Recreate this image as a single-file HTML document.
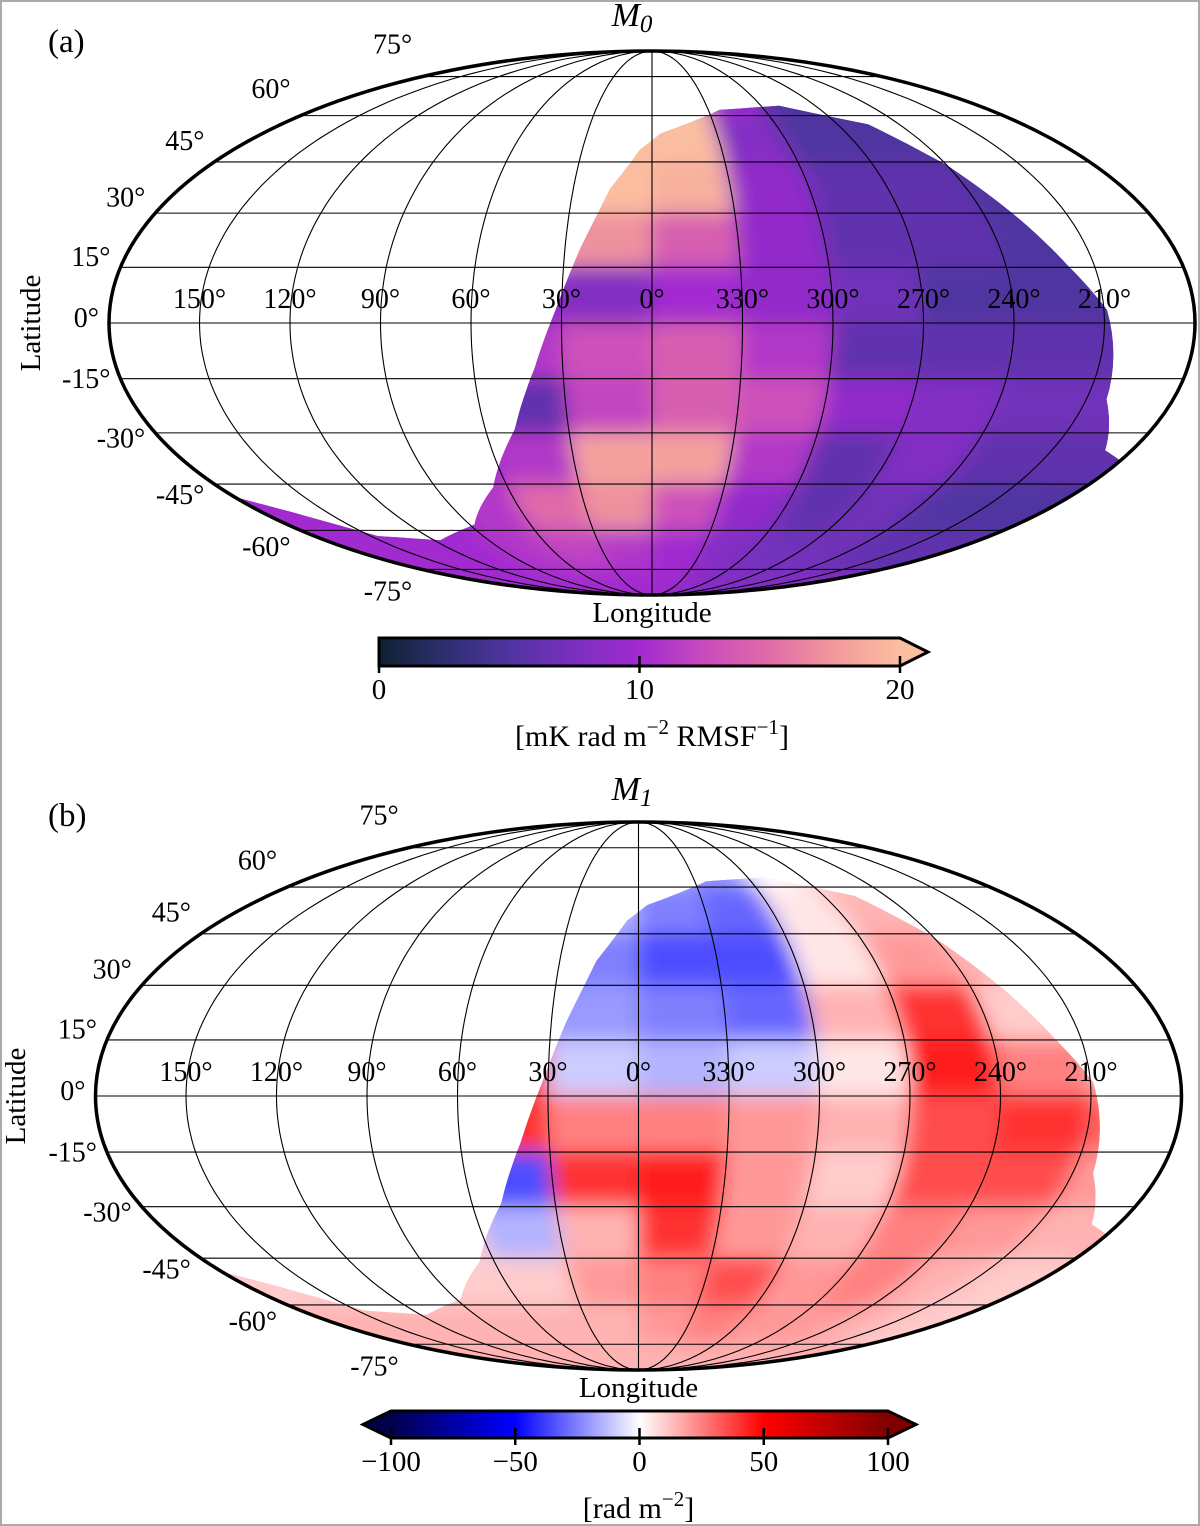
<!DOCTYPE html>
<html><head><meta charset="utf-8"><style>
html,body{margin:0;padding:0;background:#fff;}
svg{display:block;font-family:"Liberation Serif","DejaVu Serif",serif;}
</style></head><body>
<svg id="fig" width="1200" height="1526" viewBox="0 0 1200 1526" xmlns="http://www.w3.org/2000/svg">
<defs>
<filter id="blur" x="-5%" y="-5%" width="110%" height="110%"><feGaussianBlur stdDeviation="10"/></filter>
<linearGradient id="gradA" x1="0" x2="1" y1="0" y2="0">
<stop offset="0" stop-color="#0e2233"/><stop offset="0.125" stop-color="#2e2e6e"/><stop offset="0.25" stop-color="#4f35a0"/><stop offset="0.375" stop-color="#7a2fc0"/><stop offset="0.5" stop-color="#a22ad0"/><stop offset="0.625" stop-color="#c94bbd"/><stop offset="0.75" stop-color="#e06ba8"/><stop offset="0.875" stop-color="#f29a9c"/><stop offset="1" stop-color="#fbbea0"/>
</linearGradient>
<linearGradient id="gradB" x1="0" x2="1" y1="0" y2="0">
<stop offset="0" stop-color="#00004c"/><stop offset="0.25" stop-color="#0000ff"/><stop offset="0.5" stop-color="#ffffff"/><stop offset="0.75" stop-color="#ff0000"/><stop offset="1" stop-color="#800000"/>
</linearGradient>
</defs>
<rect x="1" y="1" width="1198" height="1524" fill="#fff" stroke="#aaa" stroke-width="2"/>
</svg>
<script>
// ---- data ----
const lonCenters = [165,135,105,75,45,15,-15,-45,-75,-105,-135,-165];
const latCenters = [82.5,67.5,52.5,37.5,22.5,7.5,-7.5,-22.5,-37.5,-52.5,-67.5,-82.5];
const m0Values = [
[10,10,10,10,10,18,18,12,6,6,6,6],
[10,10,10,10,18,20,20,10,5,5,5,5],
[10,10,10,10,20,20,20,8,5,5,5,5],
[10,10,10,10,20,20,19,9,6,6,5,5],
[10,10,10,10,18,17,14,9,6,6,5,5],
[10,10,10,10,9,8,10,9,7,5,5,5],
[10,10,10,10,11,13,14,11,6,6,6,6],
[10,10,10,10,6,12,14,13,9,8,7,7],
[10,10,10,10,11,18,18,11,6,8,6,6],
[10,9,9,11,15,17,13,9,6,7,5,5],
[10,10,10,11,12,11,10,8,7,7,6,6],
[10,10,10,10,10,10,10,9,8,8,8,8]];
const m1Values = [
[10,10,10,10,5,5,-10,-10,5,10,10,10],
[10,10,10,10,5,5,-15,-20,0,10,10,10],
[10,10,10,10,5,-15,-25,-30,5,15,15,10],
[10,10,10,10,5,-25,-35,-35,5,20,15,10],
[10,10,10,10,-20,-20,-25,-30,15,40,10,10],
[10,10,10,10,40,-10,-15,-10,5,45,25,15],
[10,10,10,10,40,25,25,20,15,35,40,30],
[10,10,10,10,-35,40,45,20,10,35,35,20],
[10,10,10,10,-15,15,40,20,15,25,20,15],
[10,10,10,10,10,20,25,35,20,25,15,10],
[15,15,15,15,15,15,20,25,20,20,15,10],
[15,15,15,15,15,15,15,15,15,15,15,15]];
const boundaryLon = [5,-4,-36,-70,-105,-120,-132,-141,-151,-157,-170,-180,-180,-180,180,180,180,165.7,146,116.5,87.6,66,49.4,39.4,32,24.8,16,5];
const boundaryLat = [49,54,62,63.5,57,44,28,15.5,3.5,-20.7,-35,-38,-60,-89.9,-89.9,-60,-49,-54,-62,-63.5,-58,-46,-29,-12,3.5,20,37,49];
const lonTickLabels = ["150°","120°","90°","60°","30°","0°","330°","300°","270°","240°","210°"];
const lonTickValues = [150,120,90,60,30,0,-30,-60,-90,-120,-150];
const latTickValues = [75,60,45,30,15,0,-15,-30,-45,-60,-75];
const cbTicksA = [0,10,20];
const cbTicksB = [-100,-50,0,50,100];

const NS="http://www.w3.org/2000/svg";
const svg=document.getElementById('fig');
function mk(tag,attrs,parent){const e=document.createElementNS(NS,tag);for(const k in attrs)e.setAttribute(k,attrs[k]);(parent||svg).appendChild(e);return e;}

function theta(lat){const p=Math.PI*Math.sin(lat*Math.PI/180);let t=lat*Math.PI/180*0.8;
 if(Math.abs(lat)>89.99)return Math.sign(lat)*Math.PI/2;
 for(let i=0;i<30;i++){const f=2*t+Math.sin(2*t)-p;const d=2+2*Math.cos(2*t);if(d<1e-9)break;t-=f/d;}return t;}
function proj(P,lon,lat){const t=theta(lat);return [P.cx-P.a*(lon/180)*Math.cos(t),P.cy-P.b*Math.sin(t)];}

const stopsA=[[0,[14,34,51]],[2.5,[46,46,110]],[5,[79,53,160]],[7.5,[122,47,192]],[10,[162,42,208]],[12.5,[201,75,189]],[15,[224,107,168]],[17.5,[242,154,156]],[20,[251,190,160]]];
const stopsB=[[-100,[0,0,76]],[-50,[0,0,255]],[0,[255,255,255]],[50,[255,0,0]],[100,[128,0,0]]];
function cmap(stops,v){if(v<=stops[0][0])return rgb(stops[0][1]);const L=stops[stops.length-1];if(v>=L[0])return rgb(L[1]);
 for(let i=0;i<stops.length-1;i++){const a=stops[i],b=stops[i+1];if(v>=a[0]&&v<=b[0]){const f=(v-a[0])/(b[0]-a[0]);return rgb(a[1].map((c,j)=>c+(b[1][j]-c)*f));}}}
function rgb(c){return 'rgb('+c.map(x=>Math.round(x)).join(',')+')';}

function polyPts(P,pts){return pts.map(p=>proj(P,p[0],p[1]).map(v=>v.toFixed(1)).join(',')).join(' ');}

function panel(P){
 const g=mk('g',{});
 
 
 const cp=mk('clipPath',{id:'clip-'+P.id},svg.querySelector('defs'));
 const dense=[];
 for(let i=0;i<boundaryLon.length-1;i++){for(let s=0;s<8;s++){const f=s/8;dense.push([boundaryLon[i]+(boundaryLon[i+1]-boundaryLon[i])*f,boundaryLat[i]+(boundaryLat[i+1]-boundaryLat[i])*f]);}}
 mk('polygon',{points:polyPts(P,dense)},cp);
 const mapG=mk('g',{'clip-path':'url(#clip-'+P.id+')'},g);
 
 
 const base=mk('g',{},mapG);
 const blurG=mk('g',{filter:'url(#blur)'},mapG);
 latCenters.forEach((la,r)=>{lonCenters.forEach((lo,c)=>{
   const pts=[];const l0=lo+15,l1=lo-15,b0=la+7.5,b1=la-7.5;
   for(let s=0;s<=4;s++)pts.push([l0+(l1-l0)*s/4,b0]);
   for(let s=0;s<=4;s++)pts.push([l1,b0+(b1-b0)*s/4]);
   for(let s=0;s<=4;s++)pts.push([l1+(l0-l1)*s/4,b1]);
   for(let s=0;s<=4;s++)pts.push([l0,b1+(b0-b1)*s/4]);
   const col=cmap(P.stops,P.values[r][c]);
   const c1=mk('polygon',{points:polyPts(P,pts),fill:col,stroke:col,'stroke-width':1},base);
   
   
   const c2=mk('polygon',{points:polyPts(P,pts),fill:col,stroke:col,'stroke-width':1},blurG);
   
   
 });});
 const grid=mk('g',{stroke:'#000','stroke-width':1.1,fill:'none'},g);
 
 
 for(let la=-75;la<=75;la+=15){const a=proj(P,180,la),b=proj(P,-180,la);
  const ln=mk('line',{x1:a[0],y1:a[1],x2:b[0],y2:b[1]},grid);
  
  }
 for(let lo=-150;lo<=150;lo+=30){const pts=[];for(let la=-90;la<=90;la+=2)pts.push([lo,la]);
  const pl=mk('polyline',{points:polyPts(P,pts)},grid);
  
  }
 const el=mk('ellipse',{cx:P.cx,cy:P.cy,rx:P.a,ry:P.b,fill:'none',stroke:'#000','stroke-width':3.5},g);
 
 
 lonTickValues.forEach((lo,i)=>{const p=proj(P,lo,0);
  const t=mk('text',{x:p[0],y:P.cy-15,'font-size':28,'text-anchor':'middle'},g);t.textContent=lonTickLabels[i];
  
  });
 latTickValues.forEach(la=>{const p=proj(P,-180,la);const ex=P.cx-(p[0]-P.cx);
  const t=mk('text',{x:ex-10,y:p[1]-5-la*0.36+9,'font-size':28,'text-anchor':'end'},g);t.textContent=la+'°';
  
  });
 const yl=mk('text',{x:0,y:0,'font-size':29,'text-anchor':'middle',transform:'translate('+(P.ylx)+','+P.cy+') rotate(-90)'},g);yl.textContent='Latitude';
 
 
 const xl=mk('text',{x:P.cx,y:P.cy+P.b+27,'font-size':29,'text-anchor':'middle'},g);xl.textContent='Longitude';
 
 
 const tt=mk('text',{x:P.titleX,y:P.titleY,'font-size':34,'font-style':'italic','text-anchor':'middle'},g);
 tt.innerHTML='M<tspan font-size="25" dy="6">'+P.sub+'</tspan>';
 
 
 const pl=mk('text',{x:48,y:P.titleY+26,'font-size':33},g);pl.textContent=P.letter;
 
 
 const cb=mk('g',{},g);
 
 
 const C=P.cb;
 const r=mk('rect',{x:C.x0,y:C.y,width:C.x1-C.x0,height:C.h,fill:'url(#'+C.grad+')'},cb);
 
 
 const endR=P.stops[P.stops.length-1][1],endL=P.stops[0][1];
 let outline='M'+C.x0+','+C.y+' L'+C.x1+','+C.y+' L'+(C.x1+28)+','+(C.y+C.h/2)+' L'+C.x1+','+(C.y+C.h)+' L'+C.x0+','+(C.y+C.h);
 const ar=mk('path',{d:'M'+C.x1+','+C.y+' L'+(C.x1+28)+','+(C.y+C.h/2)+' L'+C.x1+','+(C.y+C.h)+'Z',fill:rgb(endR)},cb);
 
 
 if(C.both){const al=mk('path',{d:'M'+C.x0+','+C.y+' L'+(C.x0-28)+','+(C.y+C.h/2)+' L'+C.x0+','+(C.y+C.h)+'Z',fill:rgb(endL)},cb);
  
  
  outline='M'+C.x0+','+C.y+' L'+C.x1+','+C.y+' L'+(C.x1+28)+','+(C.y+C.h/2)+' L'+C.x1+','+(C.y+C.h)+' L'+C.x0+','+(C.y+C.h)+' L'+(C.x0-28)+','+(C.y+C.h/2)+'Z';}
 else outline+='Z';
 const ol=mk('path',{d:outline,fill:'none',stroke:'#000','stroke-width':3},cb);
 
 
 C.ticks.forEach(v=>{const x=C.x0+(v-C.min)/(C.max-C.min)*(C.x1-C.x0);
  const tk=mk('line',{x1:x,x2:x,y1:C.y+C.h-10,y2:C.y+C.h+7,stroke:'#000','stroke-width':2.5},cb);
  
  
  const tl=mk('text',{x:x,y:C.y+C.h+33,'font-size':29,'text-anchor':'middle'},cb);tl.textContent=String(v).replace('-','\u2212');
  
  });
 const ul=mk('text',{x:P.cx,y:C.y+C.h+80,'font-size':30,'text-anchor':'middle'},cb);ul.innerHTML=C.unit;
 
 
}

panel({name:'panel-a-m0',id:'a',cx:652,cy:323,a:543,b:272,values:m0Values,stops:stopsA,ylx:40,titleX:632,titleY:26,sub:'0',letter:'(a)',
 cb:{x0:379,x1:900,y:638,h:28,grad:'gradA',min:0,max:20,ticks:cbTicksA,both:false,unit:'[mK rad m<tspan dy="-12" font-size="21">\u22122</tspan><tspan dy="12"> RMSF</tspan><tspan dy="-12" font-size="21">\u22121</tspan><tspan dy="12">]</tspan>'}});
panel({name:'panel-b-m1',id:'b',cx:638.5,cy:1096,a:543,b:274,values:m1Values,stops:stopsB,ylx:25,titleX:632,titleY:800,sub:'1',letter:'(b)',
 cb:{x0:391,x1:888,y:1411,h:27,grad:'gradB',min:-100,max:100,ticks:cbTicksB,both:true,unit:'[rad m<tspan dy="-12" font-size="21">\u22122</tspan><tspan dy="12">]</tspan>'}});
</script>
</body></html>
